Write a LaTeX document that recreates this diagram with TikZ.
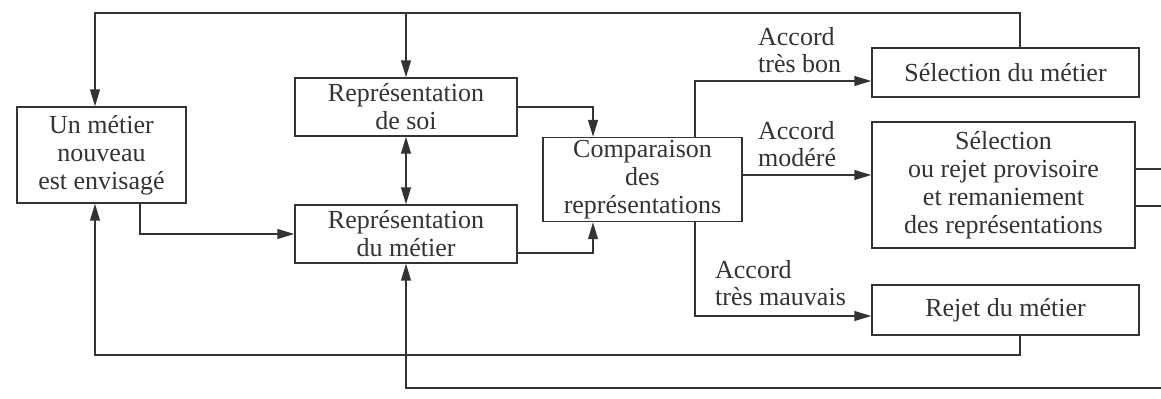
\documentclass[tikz,border=0pt]{standalone}
\usepackage{fontspec}
\setmainfont{Liberation Serif}
\usetikzlibrary{arrows.meta}

\begin{document}
\begin{tikzpicture}[
            x=0.025cm, y=-0.025cm,
            color=black!80, line width=1pt,
            box/.style={draw, rectangle, align=center, inner sep=2pt, font=\fontsize{18.5}{19.8}\selectfont},
            lbl/.style={align=left, inner sep=1pt, anchor=south west, font=\fontsize{18.5}{19}\selectfont},
            arr/.style={-{Triangle[length=12pt, width=7pt]}}
        ]
        \useasboundingbox (0,0) rectangle (1161,399);
        % Boxes on the left
        \node[box, minimum width=4.225cm, minimum height=2.4cm] (metier) at (101.5,155) {Un métier\\nouveau\\est envisagé};
        \node[box, minimum width=5.55cm, minimum height=1.45cm] (soi) at (406,107) {Représentation\\de soi};
        \node[box, minimum width=5.55cm, minimum height=1.45cm] (repm) at (406,234) {Représentation\\du métier};
        % Comparison
        \node[box, minimum width=4.975cm, minimum height=2.075cm] (comp) at (642.5,179.5) {Comparaison\\des\\représentations};
        % Outcomes
        \node[box, minimum width=6.675cm, minimum height=1.225cm] (selm) at (1005.5,72.5) {Sélection du métier};
        \node[box, minimum width=6.575cm, minimum height=3.15cm] (selr) at (1003.5,185) {Sélection\\ou rejet provisoire\\et remaniement\\des représentations};
        \node[box, minimum width=6.675cm, minimum height=1.25cm] (rejm) at (1005.5,310) {Rejet du métier};
        % Labels of the three branches
        \node[lbl] (bon) at (756,75) {Accord\\très bon};
        \node[lbl] (modere) at (756,169) {Accord\\modéré};
        \node[lbl] (mauvais) at (713,308) {Accord\\très mauvais};
        % Loop corners
        \coordinate (tr) at (1020,13);
        \coordinate (tl) at (95,13);
        \coordinate (br) at (1020,355);
        \coordinate (bl) at (95,355);
        \coordinate (out1) at (1161,169);
        \coordinate (out2) at (1161,206);
        \coordinate (in) at (1161,388);

        % Top loop
        \draw[arr] (tr |- selm.north) -- (tr) -- (tl) -- (tl |- metier.north);
        \draw[arr] (soi.north |- tl) -- (soi.north);
        % Into the representations
        \draw[arr] (140,0 |- metier.south) |- (repm.west);
        \draw[{Triangle[length=12pt, width=7pt]}-{Triangle[length=12pt, width=7pt]}] (soi.south) -- (repm.north);
        \draw[arr] (soi.east) -| (593,0 |- comp.north);
        \draw[arr] (repm.east |- 0,253) -| (593,0 |- comp.south);
        % Branches
        \draw[arr] (695,0 |- comp.north) |- (selm.west |- 0,81);
        \draw[arr] (comp.east |- 0,175) -- (selr.west |- 0,175);
        \draw[arr] (695,0 |- comp.south) |- (rejm.west |- 0,316);
        % Bottom loops
        \draw[arr] (br |- rejm.south) -- (br) -- (bl) -- (bl |- metier.south);
        \draw (selr.east |- out1) -- (out1);
        \draw (selr.east |- out2) -- (out2);
        \draw[arr] (in) -| (repm.south);
    \end{tikzpicture}
\end{document}
